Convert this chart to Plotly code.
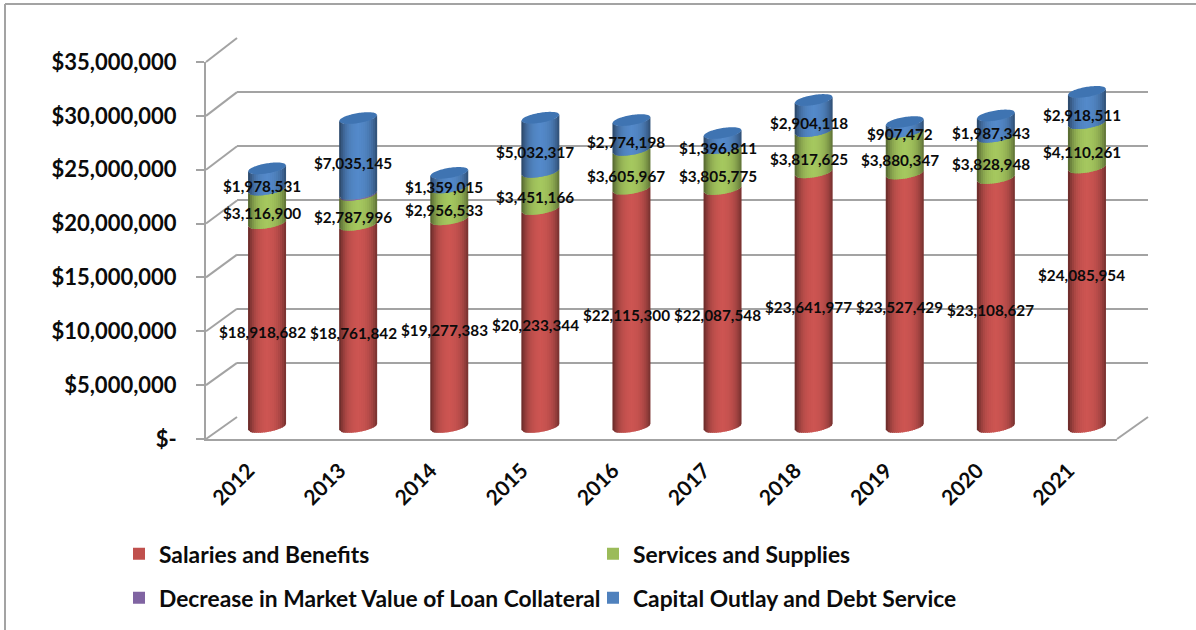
import math
import plotly.graph_objects as go

YEARS = [2012, 2013, 2014, 2015, 2016, 2017, 2018, 2019, 2020, 2021]
SALARIES = [18918682, 18761842, 19277383, 20233344, 22115300, 22087548, 23641977, 23527429, 23108627, 24085954]
SERVICES = [3116900, 2787996, 2956533, 3451166, 3605967, 3805775, 3817625, 3880347, 3828948, 4110261]
DECREASE = [0, 100000, 0, 0, 0, 0, 0, 0, 0, 0]
CAPITAL = [1978531, 7035145, 1359015, 5032317, 2774198, 1396811, 2904118, 907472, 1987343, 2918511]
Y_TICKS = [0, 5000000, 10000000, 15000000, 20000000, 25000000, 30000000, 35000000]
Y_LABELS = ["$-", "$5,000,000", "$10,000,000", "$15,000,000", "$20,000,000", "$25,000,000", "$30,000,000", "$35,000,000"]

W, H = 1196, 630
FONT = "Lato"
INK = "#0b0b0b"
GRID = "#a3a3a3"
RED, GREEN, PURPLE, BLUE = "#C0504D", "#9BBB59", "#8064A2", "#4F81BD"
SERIES = [("Salaries and Benefits", SALARIES, RED, "legend"),
          ("Services and Supplies", SERVICES, GREEN, "legend"),
          ("Decrease in Market Value of Loan Collateral", DECREASE, PURPLE, "legend2"),
          ("Capital Outlay and Debt Service", CAPITAL, BLUE, "legend2")]

# pixel geometry of the pseudo-3D frame
FX0, FX1, FY0, FY1 = 206, 1117, 439, 62      # front plane
BX0, BX1, BY0, BY1 = 237, 1148, 417, 38      # back wall
CX0, CX1, CY0, CY1 = 221.5, 1132.5, 427, 50  # plane of the cylinders
YMAX = 35000000
BAND = (CX1 - CX0) / 10
PPU = (CY0 - CY1) / YMAX
RX = 19 / BAND      # cylinder radius, in years
RY, TILT = 5.0, 3.0  # ellipse half height, tilt, in px
ROOM = 14           # px kept under the cylinder plane so the round bases are not clipped


def xdom(a, b):
    return [a / W, b / W]


def ydom(bottom, top):
    return [1 - bottom / H, 1 - top / H]


def shade(hex_color, t):
    f = 1.07 - 0.10 * abs(t) - (0.46 if t < 0 else 0.38) * abs(t) ** 3
    r, g, b = (int(hex_color[i:i + 2], 16) for i in (1, 3, 5))
    return "rgb(%d,%d,%d)" % (min(255, r * f), min(255, g * f), min(255, b * f))


def arc(val, t, side=-1):
    """Value on the elliptical edge at level val, t in [-1, 1]."""
    return val + (TILT * t + side * RY * math.sqrt(max(0, 1 - t * t))) / PPU


fig = go.Figure()
fig.add_trace(go.Scatter(x=YEARS, y=[0] * 10, mode="none", xaxis="x", yaxis="y", showlegend=False, hoverinfo="skip"))
fig.add_trace(go.Scatter(x=YEARS, y=[0] * 10, mode="none", xaxis="x2", yaxis="y2", showlegend=False, hoverinfo="skip"))
for name, vals, color, leg in SERIES:
    fig.add_trace(go.Bar(x=YEARS, y=vals, name=name, marker=dict(color=color, line_width=0),
                         width=0.3, xaxis="x3", yaxis="y3", legend=leg))

shapes = []
annotations = []
LABEL_DX, LABEL_DY = -5, -7
EXTRA_DY = {(9, 0): 29}
STRIPS = 19
for i, year in enumerate(YEARS):
    base = 0
    for k, (name, vals, color, _) in enumerate(SERIES):
        v = vals[i]
        if v == 0:
            continue
        top = base + v
        for s in range(STRIPS):
            t0 = -1 + 2 * s / STRIPS
            t1 = -1 + 2 * (s + 1) / STRIPS
            tm = (t0 + t1) / 2
            tb = min(1, t1 + 0.07)
            x0, x1 = year + t0 * RX, year + tb * RX
            path = "M%.4f,%.1f L%.4f,%.1f L%.4f,%.1f L%.4f,%.1f Z" % (
                x0, arc(base, t0), x1, arc(base, tb), x1, arc(top, tb), x0, arc(top, t0))
            shapes.append(dict(type="path", path=path, xref="x3", yref="y3", line_width=0,
                               fillcolor=shade(color, tm), layer="above"))
        if k != 2:
            annotations.append(dict(
                x=year, y=base + v / 2, xref="x3", yref="y3", showarrow=False,
                text="$" + format(v, ","), xshift=LABEL_DX, yshift=LABEL_DY + EXTRA_DY.get((i, k), 0),
                font=dict(family=FONT, size=15.3, color=INK, weight="bold")))
        base = top
    # top cap
    pts = []
    n = 30
    for j in range(n + 1):
        t = -1 + 2 * j / n
        pts.append((year + t * RX, arc(base, t, -1)))
    for j in range(n, -1, -1):
        t = -1 + 2 * j / n
        pts.append((year + t * RX, arc(base, t, 1)))
    path = "M" + " L".join("%.4f,%.1f" % p for p in pts) + " Z"
    shapes.append(dict(type="path", path=path, xref="x3", yref="y3", line_width=0,
                       fillcolor="#3F74B2", layer="above"))

# frame and walls
def line(x0, y0, x1, y1, color=GRID, width=2):
    return dict(type="line", xref="paper", yref="paper", x0=x0 / W, x1=x1 / W, y0=1 - y0 / H, y1=1 - y1 / H,
                line=dict(color=color, width=width), layer="below")


shapes.append(line(5, 630, 5, 4))
shapes.append(line(5, 4, 1196, 4))
for v in Y_TICKS:
    frac = v / YMAX
    shapes.append(line(FX0, FY0 + (FY1 - FY0) * frac, BX0, BY0 + (BY1 - BY0) * frac))
shapes.append(line(FX1, FY0, BX1, BY0))

LEGEND_FONT = dict(family=FONT, size=22.8, color=INK, weight="bold")
fig.update_layout(
    width=W, height=H, margin=dict(l=0, r=0, t=0, b=0, autoexpand=False), paper_bgcolor="white",
    plot_bgcolor="rgba(0,0,0,0)",
    barmode="stack", hovermode="closest", shapes=shapes, annotations=annotations,
    font=dict(family=FONT, color=INK),
    xaxis=dict(domain=xdom(FX0, FX1), range=[2011.5, 2021.5], tickmode="array", tickvals=YEARS,
               ticktext=[str(y) for y in YEARS], tickangle=-45, showgrid=False, zeroline=False,
               showline=True, linecolor=GRID, linewidth=2, ticks="", anchor="y", automargin=False,
               ticklabelstandoff=9, ticklabelshift=-3,
               tickfont=dict(family=FONT, size=21, color=INK, weight="bold")),
    yaxis=dict(domain=ydom(FY0, FY1), range=[0, YMAX], tickmode="array", tickvals=Y_TICKS, ticktext=Y_LABELS,
               showgrid=False, zeroline=False, showline=True, linecolor=GRID, linewidth=2, ticks="outside",
               ticklen=8, tickwidth=2, tickcolor=GRID, anchor="x", automargin=False,
               ticklabelstandoff=15,
               tickfont=dict(family=FONT, size=22, color=INK, weight="bold")),
    xaxis2=dict(domain=xdom(BX0, BX1), range=[2011.5, 2021.5], visible=False, anchor="y2"),
    yaxis2=dict(domain=ydom(BY0, BY1), range=[0, YMAX], tickmode="array", tickvals=Y_TICKS, showticklabels=False,
                showgrid=True, gridcolor=GRID, gridwidth=2, zeroline=False, showline=False, ticks="", anchor="x2"),
    xaxis3=dict(domain=xdom(CX0, CX1), range=[2011.5, 2021.5], visible=False, anchor="y3"),
    yaxis3=dict(domain=ydom(CY0 + ROOM, CY1), range=[-ROOM / PPU, YMAX], visible=False, anchor="x3"),
    legend=dict(orientation="h", x=119 / W, y=1 - 554 / H, xanchor="left", yanchor="middle", entrywidth=474 - 45,
                entrywidthmode="pixels", traceorder="normal", bgcolor="rgba(0,0,0,0)", font=LEGEND_FONT),
    legend2=dict(orientation="h", x=119 / W, y=1 - 598 / H, xanchor="left", yanchor="middle", entrywidth=474 - 45,
                 entrywidthmode="pixels", traceorder="normal", bgcolor="rgba(0,0,0,0)", font=LEGEND_FONT),
)

fig.write_html("out.html", config={"displayModeBar": False}, post_script="document.body.style.margin='0';")
